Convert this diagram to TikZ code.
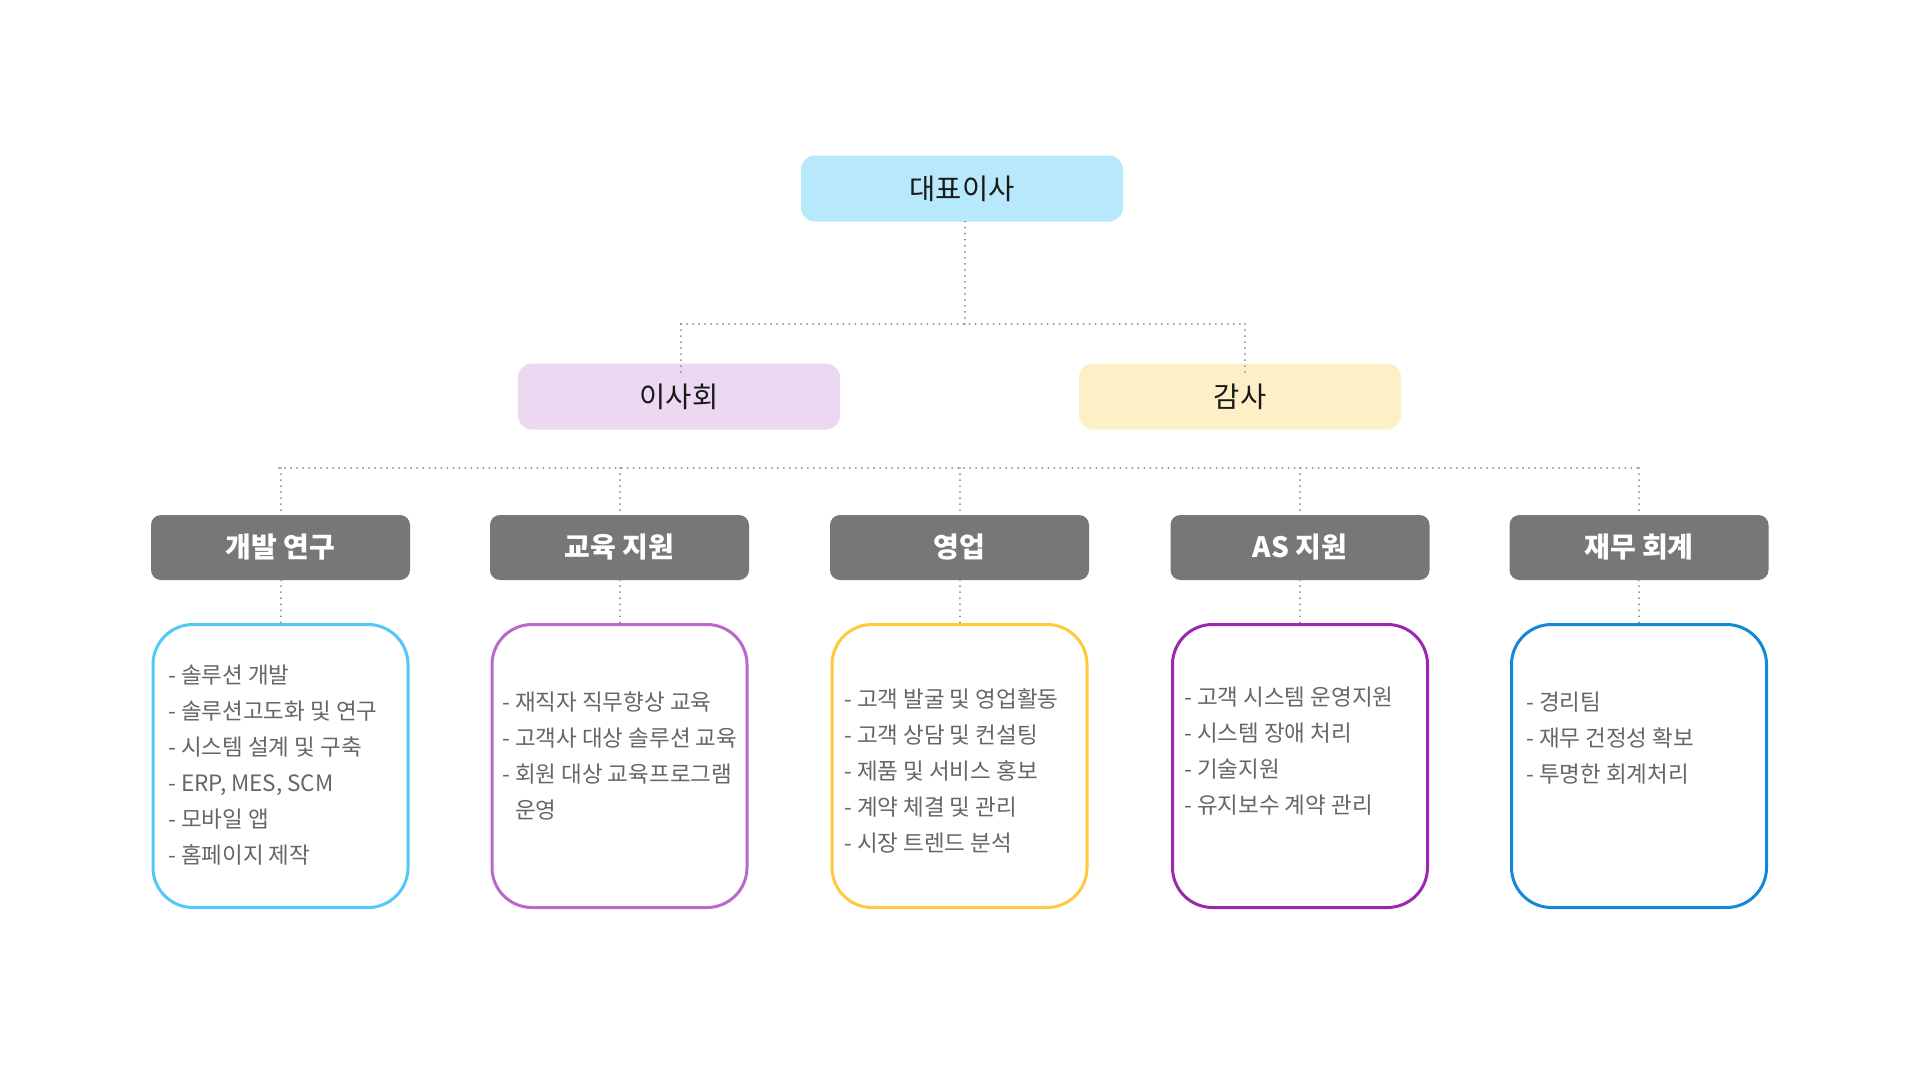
\documentclass[tikz,border=0pt]{standalone}
\usepackage{fontspec}
\setmainfont{Noto Sans CJK KR}
\definecolor{ceofill}{HTML}{B8E8FC}
\definecolor{boardfill}{HTML}{ECD8F0}
\definecolor{auditfill}{HTML}{FDEFC6}
\definecolor{deptgray}{HTML}{777777}
\definecolor{linegray}{HTML}{8A8A8A}
\definecolor{listgray}{HTML}{666666}
\definecolor{cDev}{HTML}{52C8FA}
\definecolor{cEdu}{HTML}{B96AC9}
\definecolor{cSales}{HTML}{FFC83D}
\definecolor{cAS}{HTML}{9C27B0}
\definecolor{cFin}{HTML}{1387D8}
\begin{document}
\begin{tikzpicture}[x=1pt,y=-1pt,
  topbox/.style={rounded corners=14pt, minimum width=322pt, minimum height=66pt, inner sep=0pt, text=black!90, font=\fontsize{28.5}{32}\selectfont},
  deptbox/.style={fill=deptgray, rounded corners=10pt, minimum width=259pt, minimum height=65pt, inner sep=0pt, text=white, font=\fontsize{28}{32}\selectfont\bfseries},
  listbox/.style={draw, line width=3pt, rounded corners=40pt, minimum width=255pt, minimum height=283pt, inner sep=0pt},
  listtext/.style={anchor=west, align=left, inner sep=0pt, text=listgray, font=\fontsize{22.5}{36}\selectfont},
  conn/.style={draw=linegray, line width=2pt, line cap=round, dash pattern=on 0.01pt off 6pt}
]
\path[use as bounding box, fill=white] (0,0) rectangle (1920,1080);

% top level
\node[topbox, fill=ceofill] (ceo) at (962,188.5) {대표이사};
\node[topbox, fill=boardfill] (board) at (679,396.5) {이사회};
\node[topbox, fill=auditfill] (audit) at (1240,396.5) {감사};

\coordinate (j0) at (965,324);
\coordinate (jL) at (681,324);
\coordinate (jR) at (1245,324);
\coordinate (bIn) at (681,376);
\coordinate (aIn) at (1245,377);
\draw[conn] (j0 |- ceo.south) -- (j0);
\draw[conn] (jL) -- (jR);
\draw[conn] (jL) -- (bIn);
\draw[conn] (jR) -- (aIn);

% departments
\node[deptbox] (dev) at (280.5,547.5) {개발 연구};
\node[deptbox] (edu) at (619.5,547.5) {교육 지원};
\node[deptbox] (sales) at (959.5,547.5) {영업};
\node[deptbox] (as) at (1300,547.5) {AS 지원};
\node[deptbox] (fin) at (1639,547.5) {재무 회계};

\coordinate (k1) at (279,468);
\coordinate (k5) at (1638,468);
\draw[conn] (k1) -- (k5);
\foreach \d in {dev,edu,sales,as,fin}{
  \draw[conn] (\d.north |- k1) -- (\d.north);
}

% list boxes
\node[listbox, draw=cDev] (devl) at (280.5,766) {};
\node[listbox, draw=cEdu] (edul) at (619.5,766) {};
\node[listbox, draw=cSales] (salesl) at (959.5,766) {};
\node[listbox, draw=cAS] (asl) at (1300,766) {};
\node[listbox, draw=cFin] (finl) at (1639,766) {};

\draw[conn] (dev.south) -- (devl.north);
\draw[conn] (edu.south) -- (edul.north);
\draw[conn] (sales.south) -- (salesl.north);
\draw[conn] (as.south) -- (asl.north);
\draw[conn] (fin.south) -- (finl.north);

\node[listtext] (devt) at (168,765) {- 솔루션 개발\\- 솔루션고도화 및 연구\\- 시스템 설계 및 구축\\- ERP, MES, SCM\\- 모바일 앱\\- 홈페이지 제작};
\node[listtext] (edut) at (502,755.5) {- 재직자 직무향상 교육\\- 고객사 대상 솔루션 교육\\- 회원 대상 교육프로그램\\\hphantom{- }운영};
\node[listtext] (salest) at (844,771) {- 고객 발굴 및 영업활동\\- 고객 상담 및 컨설팅\\- 제품 및 서비스 홍보\\- 계약 체결 및 관리\\- 시장 트렌드 분석};
\node[listtext] (ast) at (1184,750.6) {- 고객 시스템 운영지원\\- 시스템 장애 처리\\- 기술지원\\- 유지보수 계약 관리};
\node[listtext] (fint) at (1526,738) {- 경리팀\\- 재무 건정성 확보\\- 투명한 회계처리};
\end{tikzpicture}
\end{document}
